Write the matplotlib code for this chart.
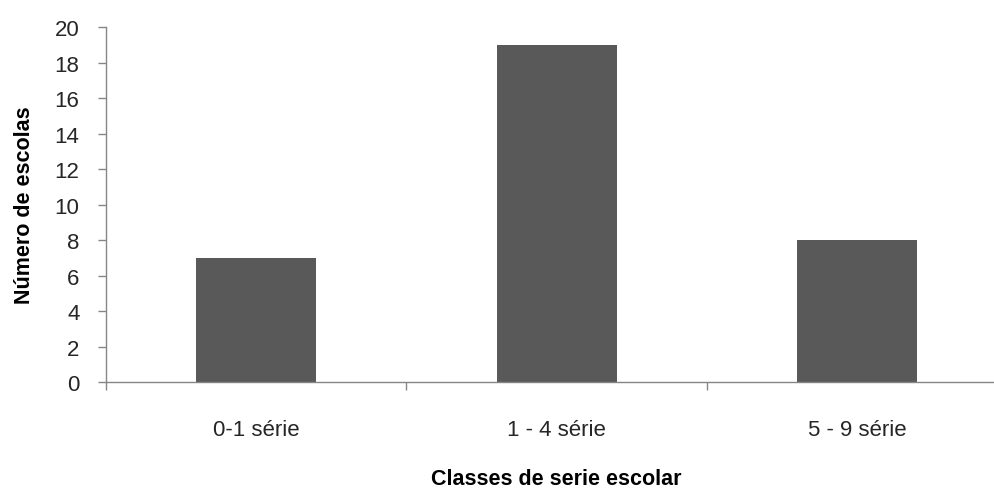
import matplotlib.pyplot as plt
import numpy as np

categories = ["0-1 série", "1 - 4 série", "5 - 9 série"]
values = [7, 19, 8]

plt.rcParams["font.family"] = ["Liberation Sans", "DejaVu Sans"]

fig = plt.figure(figsize=(9.95, 4.89), dpi=100)
ax = fig.add_axes([0.1065, 0.2168, 0.906, 0.7255])

x = np.arange(len(categories))
ax.bar(x, values, width=0.40, color="#595959", zorder=2)

ax.set_xlim(-0.5, 2.5)
ax.set_ylim(0, 20)
ax.set_yticks(np.arange(0, 21, 2))
ax.tick_params(axis="y", labelsize=16, length=6, width=1, color="#868686", pad=13,
               labelcolor="#262626")

ax.set_xticks(x)
ax.set_xticklabels(categories)
ax.tick_params(axis="x", which="major", length=0, labelsize=16, pad=27,
               labelcolor="#262626")
ax.set_xticks([-0.5, 0.5, 1.5], minor=True)
ax.tick_params(axis="x", which="minor", length=6, width=1, color="#868686")

for side in ["top", "right"]:
    ax.spines[side].set_visible(False)
for side in ["left", "bottom"]:
    ax.spines[side].set_color("#868686")
    ax.spines[side].set_linewidth(1)

ax.set_ylabel("Número de escolas", fontsize=15.5, fontweight="bold", labelpad=14)
ax.set_xlabel("Classes de serie escolar", fontsize=15.5, fontweight="bold", labelpad=20)

fig.savefig("out.png", dpi=100)
